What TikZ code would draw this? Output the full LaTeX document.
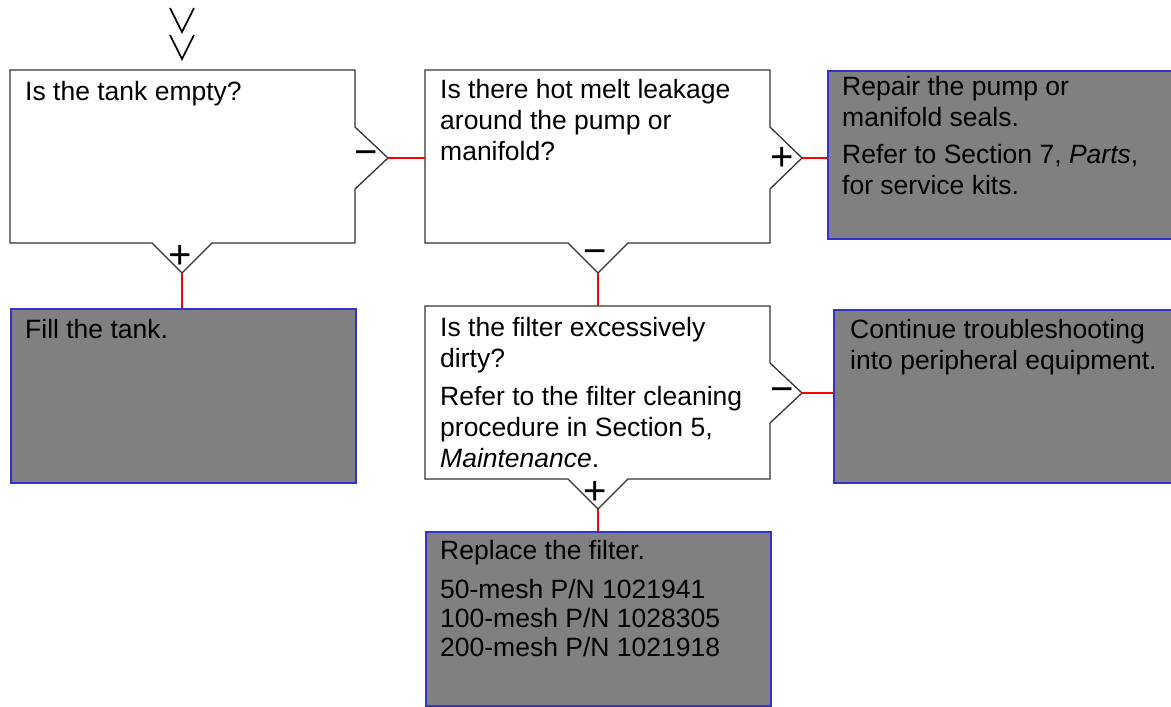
\documentclass[tikz,border=0pt]{standalone}
\usepackage{fontspec}
\setmainfont{Liberation Sans}
\definecolor{boxgray}{HTML}{808080}
\definecolor{boxblue}{HTML}{3333CC}
\definecolor{qline}{HTML}{333333}
\begin{document}
\begin{tikzpicture}[x=1pt,y=-1pt,
  qbox/.style={draw=qline, line width=1.3pt, fill=white, line join=miter},
  graybox/.style={draw=boxblue, fill=boxgray, line width=2pt, anchor=north west, inner sep=0pt},
  conn/.style={draw=red, line width=1.3pt},
  txt/.style={anchor=base west, inner sep=0pt, font=\fontsize{26.5}{31}\selectfont},
  sign/.style={inner sep=0pt, font=\fontsize{40}{40}\selectfont},
  entry/.style={draw=black, line width=1.6pt}]
\useasboundingbox (0,0) rectangle (1171,707);

% entry marker
\draw[entry] (170,8) -- (182,32) -- (194,8);
\draw[entry] (170,35) -- (182,59) -- (194,35);

% question boxes
\draw[qbox] (10,70) -- (355,70) -- (355,127) -- (388,158) -- (355,189) -- (355,243)
  -- (212,243) -- (182,273) -- (152,243) -- (10,243) -- cycle;
\draw[qbox] (425,70) -- (770,70) -- (770,127) -- (802,158) -- (770,189) -- (770,243)
  -- (628,243) -- (598,273) -- (568,243) -- (425,243) -- cycle;
\draw[qbox] (425,306) -- (770,306) -- (770,363) -- (802,393) -- (770,423) -- (770,479)
  -- (628,479) -- (598,509) -- (568,479) -- (425,479) -- cycle;

% named points of the question boxes
\coordinate (aR) at (388,158);
\coordinate (aB) at (182,273);
\coordinate (bL) at (425,158);
\coordinate (bR) at (802,158);
\coordinate (bB) at (598,273);
\coordinate (dT) at (598,306);
\coordinate (dR) at (802,393);
\coordinate (dB) at (598,509);

% action boxes
\node[graybox, minimum width=345, minimum height=174] (F) at (10,308) {};
\node[graybox, minimum width=363, minimum height=168] (C) at (827,70) {};
\node[graybox, minimum width=357, minimum height=173] (E) at (833,309) {};
\node[graybox, minimum width=345, minimum height=174] (G) at (425,531) {};

% connectors
\draw[conn] (aR) -- (bL);
\draw[conn] (aB) -- (aB |- F.north);
\draw[conn] (bR) -- (bR -| C.west);
\draw[conn] (bB) -- (dT);
\draw[conn] (dR) -- (dR -| E.west);
\draw[conn] (dB) -- (dB |- G.north);

% signs
\node[sign] (sA1) at (366,158) {−};
\node[sign] (sA2) at (180,257) {+};
\node[sign] (sB1) at (782,159) {+};
\node[sign] (sB2) at (595,257) {−};
\node[sign] (sD1) at (782,395) {−};
\node[sign] (sD2) at (595,493) {+};

% texts
\node[txt] (tA1) at (25,100) {Is the tank empty?};

\node[txt] (tB1) at (440,98) {Is there hot melt leakage};
\node[txt] (tB2) at (440,129) {around the pump or};
\node[txt] (tB3) at (440,160) {manifold?};

\node[txt] (tC1) at (842,95) {Repair the pump or};
\node[txt] (tC2) at (842,126) {manifold seals.};
\node[txt] (tC3) at (842,163) {Refer to Section 7, \textit{Parts},};
\node[txt] (tC4) at (842,194) {for service kits.};

\node[txt] (tF1) at (25,338) {Fill the tank.};

\node[txt] (tE1) at (850,338) {Continue troubleshooting};
\node[txt] (tE2) at (850,369) {into peripheral equipment.};

\node[txt] (tD1) at (440,336) {Is the filter excessively};
\node[txt] (tD2) at (440,367) {dirty?};
\node[txt] (tD3) at (440,405) {Refer to the filter cleaning};
\node[txt] (tD4) at (440,436) {procedure in Section 5,};
\node[txt] (tD5) at (440,467) {\textit{Maintenance}.};

\node[txt] (tG1) at (440,559) {Replace the filter.};
\node[txt] (tG2) at (440,598) {50-mesh P/N 1021941};
\node[txt] (tG3) at (440,627) {100-mesh P/N 1028305};
\node[txt] (tG4) at (440,656) {200-mesh P/N 1021918};
\end{tikzpicture}
\end{document}
